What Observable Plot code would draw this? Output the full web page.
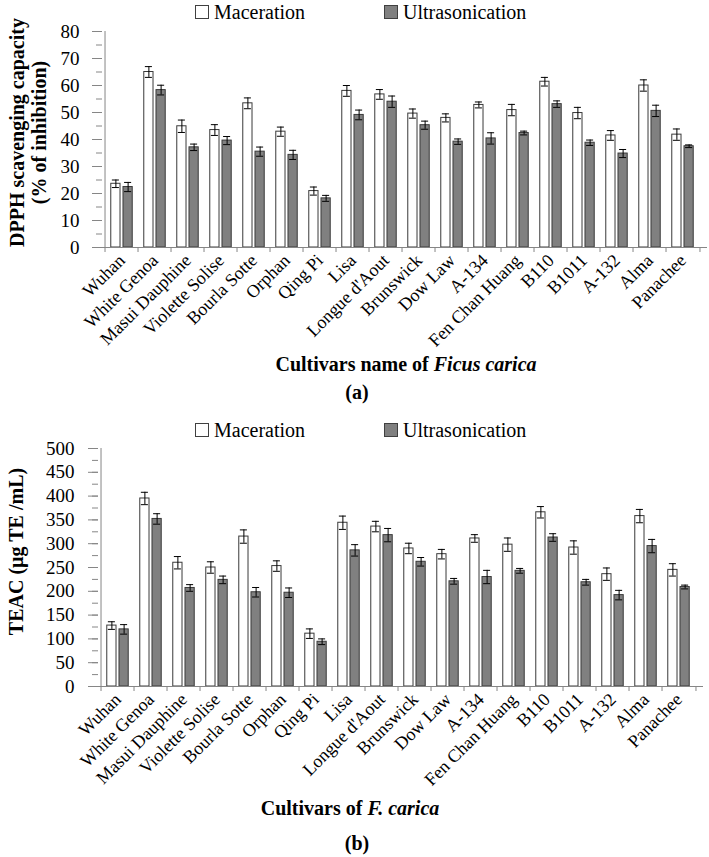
<!DOCTYPE html>
<html><head><meta charset="utf-8">
<script src="https://cdn.jsdelivr.net/npm/d3@7"></script>
<script src="https://cdn.jsdelivr.net/npm/@observablehq/plot@0.6"></script>
<style>
body{margin:0;background:#fff;font-family:"Liberation Serif","Times New Roman",serif;color:#000;}
#page{position:relative;width:709px;height:857px;overflow:hidden;background:#fff;}
.leg{position:absolute;font-size:20px;line-height:20px;height:20px;display:flex;align-items:center;white-space:nowrap;}
.sw{width:12px;height:12px;border:1px solid #404040;margin-right:5px;box-sizing:content-box;}
.ttl{position:absolute;text-align:center;font-weight:bold;font-size:20px;line-height:24px;white-space:nowrap;}
.plotwrap{position:absolute;left:0;}
</style></head><body><div id="page"></div>
<script>
const cultivars = ["Wuhan","White Genoa","Masui Dauphine","Violette Solise","Bourla Sotte","Orphan","Qing Pi","Lisa","Longue d'Aout","Brunswick","Dow Law","A-134","Fen Chan Huang","B110","B1011","A-132","Alma","Panachee"];

const dpphMaceration = [23.6,65.0,44.9,43.5,53.4,42.9,20.9,58.0,56.7,49.6,48.0,52.8,50.9,61.4,49.8,41.5,60.0,41.8];
const dpphMacerationErr = [1.4,2.0,2.3,2.0,2.0,1.7,1.5,2.0,1.8,1.7,1.5,1.1,2.1,1.6,2.1,1.8,2.1,2.1];
const dpphUltrasonication = [22.4,58.3,37.1,39.6,35.5,34.3,18.2,49.1,54.0,45.3,39.2,40.4,42.4,53.1,38.8,34.8,50.6,37.5];
const dpphUltrasonicationErr = [1.7,1.8,1.2,1.5,1.7,1.7,1.1,1.8,2.1,1.5,1.0,2.1,0.7,1.2,1.0,1.5,2.1,0.5];

const teacMaceration = [128,395,260,250,315,253,111,344,336,290,278,311,298,366,292,236,358,245];
const teacMacerationErr = [8,13,13,12,14,11,10,14,11,11,10,8,14,12,14,13,14,13];
const teacUltrasonication = [120,352,207,224,198,197,94,286,318,262,221,230,243,313,219,192,295,209];
const teacUltrasonicationErr = [10,11,7,8,10,10,6,12,14,9,6,14,5,8,6,10,14,4];

const dpphMajorTicks = d3.range(0, 81, 10);
const dpphMinorTicks = d3.range(0, 81, 5);
const teacMajorTicks = d3.range(0, 501, 50);
const teacMinorTicks = d3.range(0, 501, 25);

const seriesNames = ["Maceration", "Ultrasonication"];

const page = document.getElementById("page");
const W = 709;
const GRAY = "#868686";
const OUTLINE = "#3a3a3a";
const FILL_U = "#808080";

function addLegend(centerY) {
  const items = [{name: seriesNames[0], left: 195, fill: "#fff"}, {name: seriesNames[1], left: 384, fill: FILL_U}];
  for (const it of items) {
    const d = document.createElement("div");
    d.className = "leg";
    d.style.left = it.left + "px";
    d.style.top = (centerY - 10) + "px";
    const sw = document.createElement("div");
    sw.className = "sw";
    sw.style.background = it.fill;
    d.appendChild(sw);
    d.appendChild(document.createTextNode(it.name));
    page.appendChild(d);
  }
}

function addTitle(html, centerX, centerY, width) {
  const d = document.createElement("div");
  d.className = "ttl";
  d.style.left = (centerX - width / 2) + "px";
  d.style.width = width + "px";
  d.style.top = (centerY - 12) + "px";
  d.innerHTML = html;
  page.appendChild(d);
}

function panel(o) {
  const plotW = W - o.marginLeft - o.marginRight;
  const step = plotW / cultivars.length;
  const rows = cultivars.map((c, i) => ({cultivar: c, mac: o.mac[i], macErr: o.macErr[i], ultra: o.ultra[i], ultraErr: o.ultraErr[i]}));
  const cM = 0.32 * step, cU = 0.68 * step, cap = 4;
  const chart = Plot.plot({
    width: W,
    height: o.marginTop + o.plotH + o.marginBottom,
    marginTop: o.marginTop,
    marginBottom: o.marginBottom,
    marginLeft: o.marginLeft,
    marginRight: o.marginRight,
    style: {fontFamily: "'Liberation Serif', 'Times New Roman', serif", color: "#000", background: "#fff", overflow: "visible"},
    x: {domain: cultivars, padding: 0, label: null},
    y: {domain: o.domain, label: null},
    marks: [
      Plot.barY(rows, {x: "cultivar", y: "mac", fill: "#fff", stroke: OUTLINE, strokeWidth: 1, insetLeft: 0.17 * step, insetRight: 0.53 * step}),
      Plot.barY(rows, {x: "cultivar", y: "ultra", fill: FILL_U, stroke: OUTLINE, strokeWidth: 1, insetLeft: 0.53 * step, insetRight: 0.17 * step}),
      Plot.ruleX(rows, {x: "cultivar", y1: d => d.mac - d.macErr, y2: d => d.mac + d.macErr, dx: cM - step / 2, stroke: "#000", strokeWidth: 1}),
      Plot.tickY(rows, {x: "cultivar", y: d => d.mac + d.macErr, insetLeft: cM - cap, insetRight: step - cM - cap, stroke: "#000"}),
      Plot.tickY(rows, {x: "cultivar", y: d => d.mac - d.macErr, insetLeft: cM - cap, insetRight: step - cM - cap, stroke: "#000"}),
      Plot.ruleX(rows, {x: "cultivar", y1: d => d.ultra - d.ultraErr, y2: d => d.ultra + d.ultraErr, dx: cU - step / 2, stroke: "#000", strokeWidth: 1}),
      Plot.tickY(rows, {x: "cultivar", y: d => d.ultra + d.ultraErr, insetLeft: cU - cap, insetRight: step - cU - cap, stroke: "#000"}),
      Plot.tickY(rows, {x: "cultivar", y: d => d.ultra - d.ultraErr, insetLeft: cU - cap, insetRight: step - cU - cap, stroke: "#000"}),
      Plot.ruleX([cultivars[0]], {dx: -step / 2, stroke: GRAY}),
      Plot.ruleY([0], {stroke: GRAY}),
      Plot.tickY(o.minor, {y: d => d, insetRight: plotW - 6, stroke: GRAY}),
      Plot.tickY(o.major, {y: d => d, insetLeft: -4, insetRight: plotW - 6, stroke: GRAY}),
      Plot.tickX(cultivars, {x: d => d, dx: -step / 2, insetTop: o.plotH, insetBottom: -5, stroke: GRAY}),
      Plot.tickX([cultivars[cultivars.length - 1]], {x: d => d, dx: step / 2, insetTop: o.plotH, insetBottom: -5, stroke: GRAY}),
      Plot.axisY({ticks: o.major, tickSize: 0, tickPadding: o.yPad, fontSize: 19, label: null}),
      Plot.axisX({tickRotate: -45, tickSize: 0, tickPadding: o.xPad, fontSize: 18, label: null}),
      Plot.text([o.ytitle], {text: d => d, frameAnchor: "left", textAnchor: "middle", lineAnchor: "middle", rotate: -90, dx: o.titleDx, dy: o.titleDy, fontSize: 20, fontWeight: "bold", lineHeight: 1.1, fill: "#000"})
    ]
  });
  const wrap = document.createElement("div");
  wrap.className = "plotwrap";
  wrap.style.top = o.top + "px";
  wrap.appendChild(chart);
  page.appendChild(wrap);
}

// Panel (a)
addLegend(12);
panel({
  top: 21, marginTop: 10, plotH: 216, marginBottom: 105, marginLeft: 96, marginRight: 2,
  domain: [0, 80], major: dpphMajorTicks, minor: dpphMinorTicks,
  mac: dpphMaceration, macErr: dpphMacerationErr, ultra: dpphUltrasonication, ultraErr: dpphUltrasonicationErr,
  ytitle: "DPPH scavenging capacity\n(% of inhibition)", titleDx: -69, titleDy: -7, yPad: 17, xPad: 10
});
addTitle("Cultivars name of <i>Ficus carica</i>", 406, 364, 400);
addTitle("(a)", 357, 392, 60);

// Panel (b)
addLegend(430);
panel({
  top: 438, marginTop: 10, plotH: 238, marginBottom: 105, marginLeft: 92, marginRight: 6,
  domain: [0, 500], major: teacMajorTicks, minor: teacMinorTicks,
  mac: teacMaceration, macErr: teacMacerationErr, ultra: teacUltrasonication, ultraErr: teacUltrasonicationErr,
  ytitle: "TEAC (µg TE /mL)", titleDx: -77, titleDy: -16, yPad: 18, xPad: 10
});
addTitle("Cultivars of <i>F. carica</i>", 350, 808, 400);
addTitle("(b)", 357, 843, 60);
</script>
</body></html>
